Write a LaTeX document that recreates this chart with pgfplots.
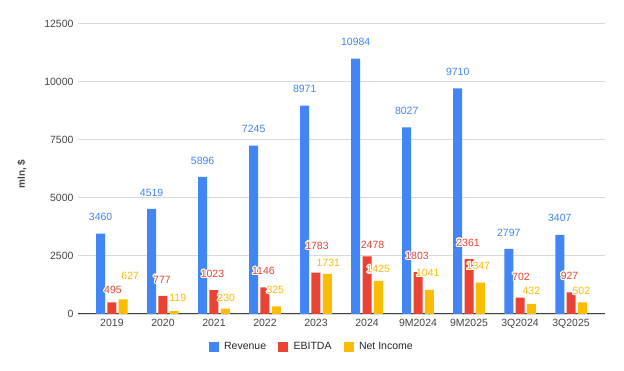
\documentclass[border=0pt]{standalone}
\usepackage{fontspec}
\setmainfont{Liberation Sans}
\usepackage{pgfplots}
\usepackage{pgfplotstable}
\usepackage[copies]{contour}
\contourlength{1.1pt}
\contournumber{16}
\pgfplotsset{compat=1.18}
\definecolor{rev}{HTML}{4285F4}
\definecolor{ebi}{HTML}{EA4335}
\definecolor{net}{HTML}{FBBC04}
\definecolor{tickc}{HTML}{444444}
\definecolor{grd}{HTML}{D9D9D9}

\pgfplotstableread{
x y dx dy
0 3460 0 16
1 4519 0 16
2 5896 0 16
3 7245 0 16
4 8971 0 16
5 10984 0 16
6 8027 0 16
7 9710 0 16
8 2797 0 16
9 3407 0 16
}\revtab

\pgfplotstableread{
x y dx dy
0 495 1 12.5
1 777 -1 16
2 1023 -1.5 16
3 1146 -1.5 16
4 1783 1 26.6
5 2478 5.5 11.4
6 1803 -1 16
7 2361 -1 16
8 702 1 20.4
9 927 -1.5 16
}\ebitab

\pgfplotstableread{
x y dx dy
0 627 7 23.4
1 119 3.5 12.5
2 230 1 10.7
3 325 -1 16
4 1731 1 10
5 1425 0 11
6 1041 -1.5 16.5
7 1347 -2 16
8 432 0 13
9 502 -1 10.6
}\nettab

\begin{document}
\begin{tikzpicture}
\path[use as bounding box] (-78pt,-57pt) rectangle (546pt,314pt);
\begin{axis}[
  at={(0pt,0pt)}, anchor=south west,
  scale only axis, width=527pt, height=290.5pt,
  ybar=2.3pt, bar width=9pt,
  xmin=-0.665, xmax=9.665,
  ymin=0, ymax=12500,
  scaled y ticks=false,
  ytick={0,2500,5000,7500,10000,12500},
  xtick={0,...,9},
  xticklabels={2019,2020,2021,2022,2023,2024,9M2024,9M2025,3Q2024,3Q2025},
  major tick length=0pt,
  ymajorgrids, grid style={grd, line width=0.9pt},
  axis x line*=bottom, axis y line*=left,
  y axis line style={draw=none},
  x axis line style={color=tickc, line width=1pt},
  tick label style={font=\fontsize{10.5}{12}\selectfont, text=tickc},
  /pgf/number format/assume math mode=true,
  /pgf/number format/1000 sep={},
  yticklabel style={xshift=-1pt},
  xticklabel style={yshift=-2pt},
  ylabel={mln, \$},
  ylabel style={at={(axis description cs:-0.1063,0.482)}, anchor=center, font=\bfseries\fontsize{10}{12}\selectfont, text=tickc},
  legend style={at={(axis description cs:0.4434,-0.1126)}, anchor=center, draw=none, fill=none, legend columns=-1, font=\fontsize{10.5}{12}\selectfont, text=black!85,
    /tikz/every odd column/.append style={column sep=3.5pt},
    /tikz/every even column/.append style={column sep=10pt}},
  legend image code/.code={\fill[#1] (0pt,-5pt) rectangle (10pt,5pt);},
  legend entries={Revenue,EBITDA,Net Income},
  nodes near coords={\contour{white}{\pgfmathprintnumber{\pgfplotspointmeta}}},
  visualization depends on={\thisrow{dx}\as\dx},
  visualization depends on={\thisrow{dy}\as\dy},
  every node near coord/.append style={font=\fontsize{10.5}{12}\selectfont, anchor=center, inner sep=0pt, xshift=\dx pt, yshift=\dy pt},
]
\addplot[fill=rev, draw=none, every node near coord/.append style={text=rev}] table[x=x,y=y] {\revtab};
\addplot[fill=ebi, draw=none, every node near coord/.append style={text=ebi}] table[x=x,y=y] {\ebitab};
\addplot[fill=net, draw=none, every node near coord/.append style={text=net}] table[x=x,y=y] {\nettab};
\end{axis}
\end{tikzpicture}
\end{document}
